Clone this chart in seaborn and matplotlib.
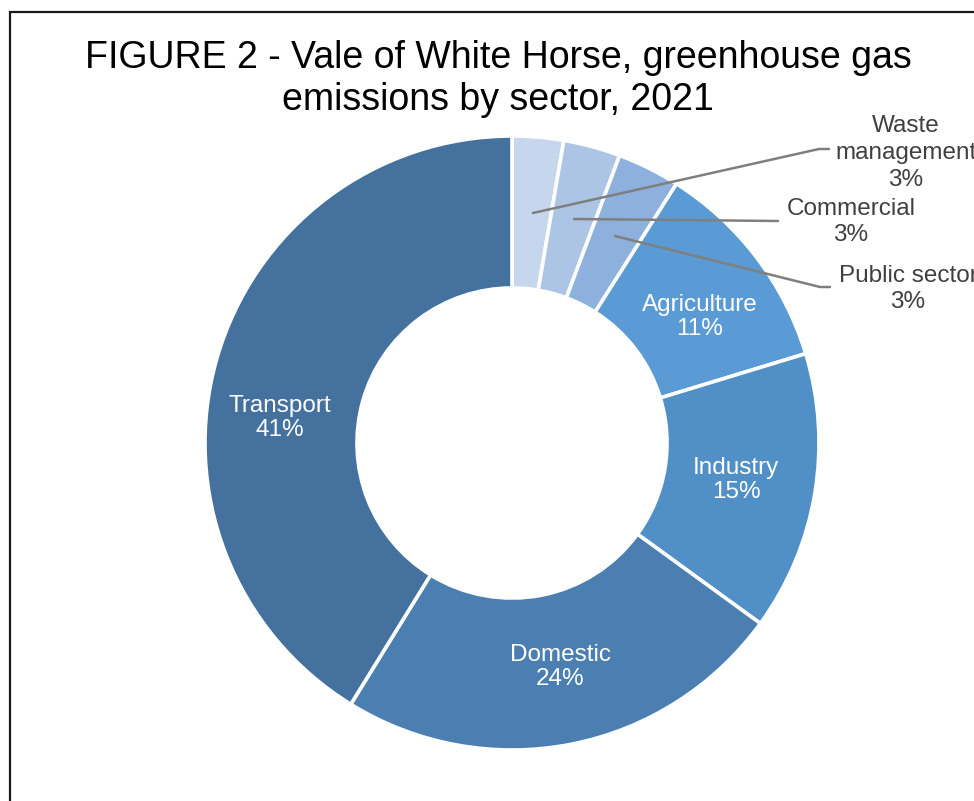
import numpy as np
import matplotlib
matplotlib.use("Agg")
import matplotlib.pyplot as plt
import seaborn as sns

# ---- data ----
sectors = ["Waste\nmanagement", "Commercial", "Public sector", "Agriculture",
           "Industry", "Domestic", "Transport"]
shares = [2.7, 3.0, 3.3, 11.3, 14.7, 23.8, 41.2]
title = "FIGURE 2 - Vale of White Horse, greenhouse gas\nemissions by sector, 2021"

# ---- style ----
sns.set_theme(style="white")
plt.rcParams["font.family"] = ["Liberation Sans", "DejaVu Sans"]

colors = sns.color_palette(["#c6d6ec", "#adc5e5", "#8db0dc", "#5b9bd5",
                            "#5190c6", "#4b7fb1", "#44719d"])

W, H = 974, 801
fig = plt.figure(figsize=(W / 100, H / 100), dpi=100)
fig.patch.set_facecolor("white")

cx, cy, R = 512, 443, 307
ax = fig.add_axes([(cx - R) / W, (H - cy - R) / H, 2 * R / W, 2 * R / H])

wedges, _ = ax.pie(shares, colors=colors, startangle=90, counterclock=False,
                   radius=1.0,
                   wedgeprops=dict(width=0.495, edgecolor="white", linewidth=2.6))
ax.set_xlim(-1, 1)
ax.set_ylim(-1, 1)
ax.set_aspect("auto")
ax.axis("off")

def px(x, y):
    return ((x - cx) / R, (cy - y) / R)

pct = [f"{int(round(v))}%" for v in shares]
fs = 17.5

# inside labels (layout positions in pixel space)
inside = {3: (700, 317), 4: (736, 480), 5: (560, 667), 6: (280, 418)}
for i, (x, y) in inside.items():
    X, Y = px(x, y)
    ax.text(X, Y, f"{sectors[i]}\n{pct[i]}", ha="center", va="center",
            color="white", fontsize=fs, linespacing=1.15)

# outside labels with leader lines
lc = "#7f7f7f"
tc = "#404040"
outside = {
    0: dict(text=(906, 153), line=[(533, 213), (819, 149), (829, 149)]),
    1: dict(text=(851, 222), line=[(574, 219), (778, 221)]),
    2: dict(text=(908, 289), line=[(615, 236), (820, 287), (830, 287)]),
}
for i, d in outside.items():
    X, Y = px(*d["text"])
    ax.text(X, Y, f"{sectors[i]}\n{pct[i]}", ha="center", va="center",
            color=tc, fontsize=fs, linespacing=1.27, clip_on=False)
    pts = np.array([px(*p) for p in d["line"]])
    ax.plot(pts[:, 0], pts[:, 1], color=lc, lw=1.8, clip_on=False)

fig.text(498 / W, 1 - 79 / H, title, ha="center", va="center",
         fontsize=27, color="black", linespacing=1.25)

# chart frame (cut off at right and bottom)
frame = plt.Rectangle((10 / W, -0.1), 1.2, 1 - 12 / H + 0.1,
                      transform=fig.transFigure, fill=False,
                      edgecolor="#1a1a1a", linewidth=1.6)
fig.add_artist(frame)

fig.savefig("out.png", dpi=100)
